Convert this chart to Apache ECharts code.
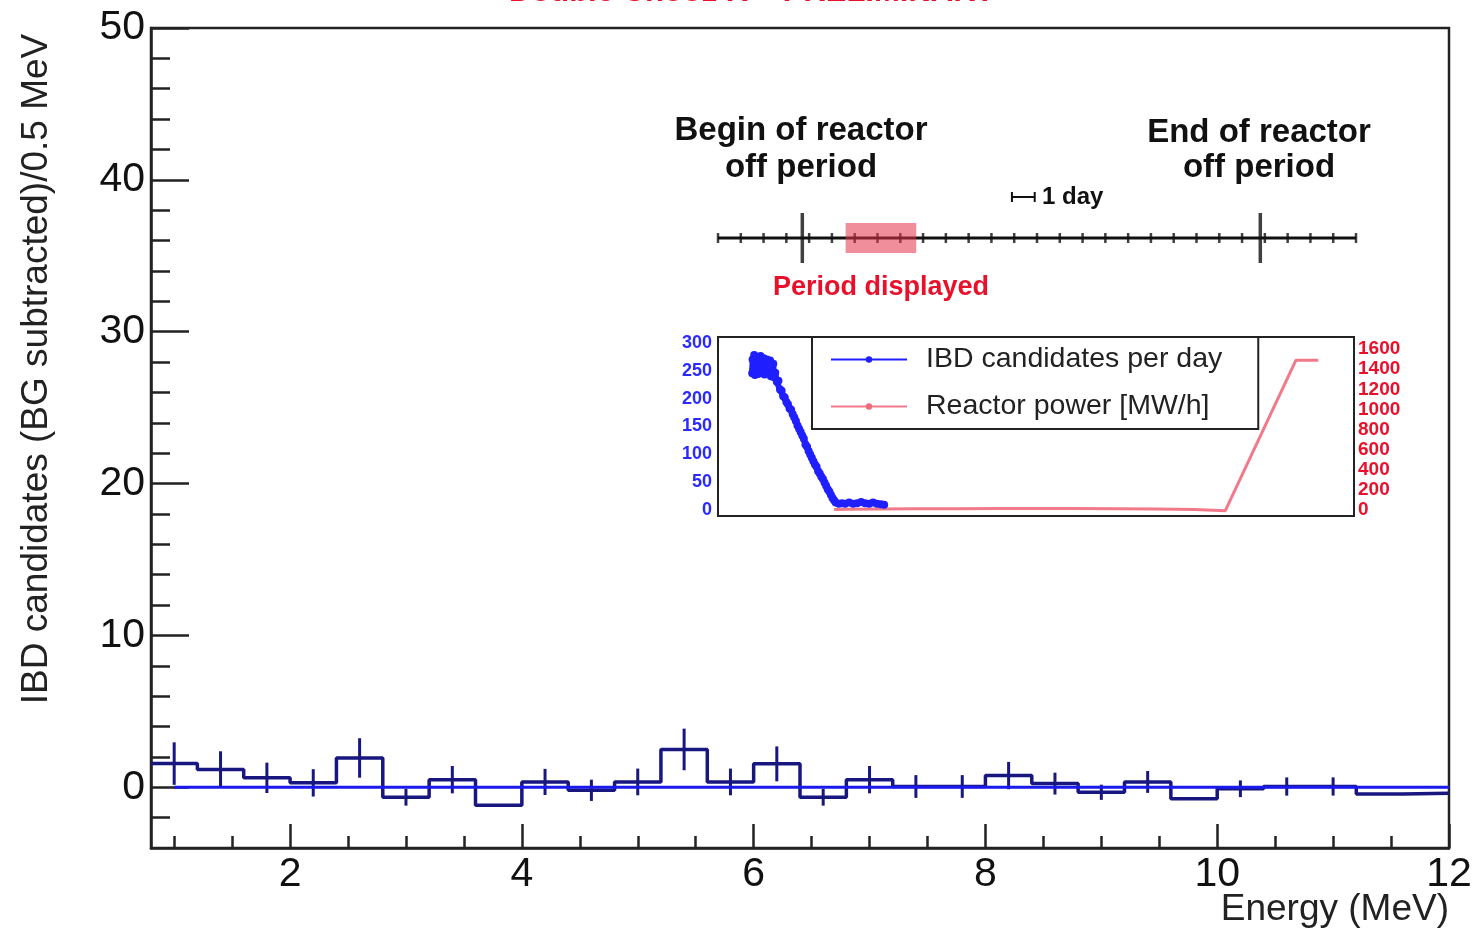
<!DOCTYPE html>
<html><head><meta charset="utf-8">
<script src="https://cdn.jsdelivr.net/npm/echarts@6/dist/echarts.min.js"></script>
<style>html,body{margin:0;padding:0;background:#fff}#c{width:1480px;height:937px}</style>
</head><body><div id="c"></div>
<script>
// ---- main histogram (energy spectrum) ----
const binCentres = [1.0,1.4,1.8,2.2,2.6,3.0,3.4,3.8,4.2,4.6,5.0,5.4,5.8,6.2,6.6,7.0,7.4,7.8,8.2,8.6,9.0,9.4,9.8,10.2,10.6,11.0,11.4,11.8];
const binValues  = [1.56,1.17,0.62,0.29,1.93,-0.66,0.50,-1.19,0.35,-0.20,0.35,2.49,0.35,1.54,-0.66,0.50,0.05,0.05,0.77,0.24,-0.33,0.35,-0.75,-0.10,0.05,0.05,-0.45,-0.40];
const binErrors  = [1.40,1.20,1.00,0.90,1.30,0.55,0.90,null,0.86,0.70,0.88,1.37,0.88,1.15,0.55,0.90,0.75,0.75,0.90,0.72,0.50,0.72,null,0.55,0.60,0.60,null,null];
const binWidth = 0.4;
const zeroLine = [[1.0, 0], [12.0, 0]];
const xMajorTicks = [2,4,6,8,10,12];
const xMinorTicks = [1,1.5,2.5,3,3.5,4.5,5,5.5,6.5,7,7.5,8.5,9,9.5,10.5,11,11.5];
const yMajorTicks = [0,10,20,30,40,50];
const yMinorTicks = [-2,2,4,6,8,12,14,16,18,22,24,26,28,32,34,36,38,42,44,46,48];

// ---- inset: IBD rate and reactor power vs time (hours) ----
const ibdTime = [4.3,4.35,4.45,4.55,4.65,4.75,4.85,4.95,5.05,5.15,5.25,5.35,5.45,5.55,5.65,5.75,5.85,5.95,6.05,6.15,6.25,6.35,6.45,6.55,6.65,6.75,6.85,6.95,7.05,7.2,7.4,7.6,7.8,8.0,8.2,8.4,8.6,8.8,9.0,9.2,9.4,9.6,9.8,10.0,10.2,10.4,10.6,10.8,11.0,11.2,11.4,11.6,11.8,12.0,12.2,12.4,12.6,12.8,13.0,13.2,13.4,13.6,13.8,14.0,14.2,14.4,14.6,14.8,15.2,15.6,16.0,16.5,17.0,17.5,18.0,18.5,19.0,19.5,20.0,20.5,20.9];
const ibdRate = [245,270,252,278,242,266,250,274,244,262,256,276,247,268,251,272,243,265,254,270,246,262,250,268,240,258,246,262,238,246,230,232,216,214,204,202,194,190,182,180,172,166,160,152,146,140,134,128,118,114,106,100,94,88,82,78,70,66,60,56,50,44,38,34,28,22,18,14,12,13,12,14,12,13,15,13,12,14,12,11,10];
const powerTime  = [14.6,16,20,25,30,35,40,45,50,55,60,63.8,72.7,75.5];
const powerValue = [5,8,10,12,12,14,14,14,12,10,4,-8,1490,1490];
const ibdTicks = [0,50,100,150,200,250,300];
const ibdMinorTicks = [10,20,30,40,60,70,80,90,110,120,130,140,160,170,180,190,210,220,230,240,260,270,280,290];
const powerTicks = [0,200,400,600,800,1000,1200,1400,1600];
const powerMinorTicks = [50,100,150,250,300,350,450,500,550,650,700,750,850,900,950,1050,1100,1150,1250,1300,1350,1450,1500,1550,1650,1700];

// ---- timeline annotation (days) ----
const timelineDays = [0,1,2,3,4,5,6,7,8,9,10,11,12,13,14,15,16,17,18,19,20,21,22,23,24,25,26,27,28];
const offPeriodEdges = [3.7, 23.8];
const displayedPeriod = [5.6, 8.7];
const oneDayBar = [12.9, 13.9];

const FONT = "'Liberation Sans', Arial, Helvetica, sans-serif";
const NAVY = '#17177f';
const plain = v => String(v);

const histData = binCentres.map((c, i) => [c - binWidth / 2, binValues[i]]);
histData.push([binCentres[binCentres.length - 1] + binWidth / 2, binValues[binValues.length - 1]]);
const errData = [];
binCentres.forEach((c, i) => { if (binErrors[i] != null) errData.push([c, binValues[i], binErrors[i]]); });

const chart = echarts.init(document.getElementById('c'), null, {renderer: 'canvas'});
chart.setOption({
  animation: false,
  backgroundColor: '#fff',
  grid: [
    {left: 151, top: 28, width: 1298, height: 820, show: true, borderColor: '#222', borderWidth: 2.5, z: 1},
    {left: 718, top: 337, width: 636, height: 179, show: true, borderColor: '#222', borderWidth: 2, backgroundColor: '#fff', z: 5},
    {left: 718, top: 213, width: 638, height: 50, show: false}
  ],
  xAxis: [
    {gridIndex: 0, type: 'value', min: 0.8, max: 12, position: 'bottom',
     axisLine: {show: true, onZero: false, lineStyle: {color: '#222', width: 2.5}},
     axisTick: {show: true, inside: true, length: 24, customValues: xMajorTicks, lineStyle: {color: '#222', width: 2.5}},
     axisLabel: {show: true, customValues: xMajorTicks, margin: 6, color: '#111', fontSize: 41, fontFamily: FONT, formatter: plain},
     splitLine: {show: false}},
    {gridIndex: 0, type: 'value', min: 0.8, max: 12, position: 'bottom',
     axisLine: {show: false, onZero: false},
     axisTick: {show: true, inside: true, length: 12, customValues: xMinorTicks, lineStyle: {color: '#222', width: 2.5}},
     axisLabel: {show: false}, splitLine: {show: false}},
    {gridIndex: 1, type: 'value', min: 0, max: 80, show: false},
    {gridIndex: 2, type: 'value', min: 0, max: 28, show: false}
  ],
  yAxis: [
    {gridIndex: 0, type: 'value', min: -4, max: 50, position: 'left',
     axisLine: {show: true, onZero: false, lineStyle: {color: '#222', width: 2.5}},
     axisTick: {show: true, inside: true, length: 38, customValues: yMajorTicks, lineStyle: {color: '#222', width: 2.5}},
     axisLabel: {show: true, customValues: yMajorTicks, margin: 6, color: '#111', fontSize: 41, fontFamily: FONT, formatter: plain},
     splitLine: {show: false}},
    {gridIndex: 0, type: 'value', min: -4, max: 50, position: 'left',
     axisLine: {show: false, onZero: false},
     axisTick: {show: true, inside: true, length: 19, customValues: yMinorTicks, lineStyle: {color: '#222', width: 2.5}},
     axisLabel: {show: false}, splitLine: {show: false}},
    {gridIndex: 1, type: 'value', min: -10, max: 310, position: 'left',
     axisLine: {show: true, onZero: false, lineStyle: {color: '#2a2aff', width: 2}},
     axisTick: {show: true, inside: true, length: 14, customValues: ibdTicks, lineStyle: {color: '#2a2aff', width: 2}},
     axisLabel: {show: true, customValues: ibdTicks, margin: 6, color: '#2a2aff', fontSize: 18, fontWeight: 'bold', fontFamily: FONT, formatter: plain},
     splitLine: {show: false}},
    {gridIndex: 1, type: 'value', min: -10, max: 310, position: 'left',
     axisLine: {show: false, onZero: false},
     axisTick: {show: true, inside: true, length: 7, customValues: ibdMinorTicks, lineStyle: {color: '#2a2aff', width: 1.5}},
     axisLabel: {show: false}, splitLine: {show: false}},
    {gridIndex: 1, type: 'value', min: -60, max: 1720, position: 'right',
     axisLine: {show: true, onZero: false, lineStyle: {color: '#e8102a', width: 2}},
     axisTick: {show: true, inside: true, length: 14, customValues: powerTicks, lineStyle: {color: '#e8102a', width: 2}},
     axisLabel: {show: true, customValues: powerTicks, margin: 4, color: '#e8102a', fontSize: 19, fontWeight: 'bold', fontFamily: FONT, formatter: plain},
     splitLine: {show: false}},
    {gridIndex: 1, type: 'value', min: -60, max: 1720, position: 'right',
     axisLine: {show: false, onZero: false},
     axisTick: {show: true, inside: true, length: 7, customValues: powerMinorTicks, lineStyle: {color: '#e8102a', width: 1.5}},
     axisLabel: {show: false}, splitLine: {show: false}},
    {gridIndex: 2, type: 'value', min: -25, max: 25, show: false}
  ],
  legend: {
    data: ['IBD candidates per day', 'Reactor power [MW/h]'],
    orient: 'vertical', left: 812, top: 337,
    padding: [8, 36, 8, 18], itemGap: 18, itemWidth: 76, itemHeight: 8,
    backgroundColor: '#fff', borderColor: '#222', borderWidth: 2,
    textStyle: {fontSize: 28.5, color: '#222', fontFamily: FONT, padding: [0, 0, 0, 14]},
    z: 10
  },
  series: [
    {name: 'histogram', type: 'line', xAxisIndex: 0, yAxisIndex: 0, step: 'end', data: histData,
     symbol: 'none', lineStyle: {color: NAVY, width: 3.5}, z: 2},
    {name: 'errors', type: 'custom', xAxisIndex: 0, yAxisIndex: 0, data: errData, z: 3,
     renderItem: function (params, api) {
       const c = api.value(0), v = api.value(1), e = api.value(2);
       const p1 = api.coord([c, v - e]), p2 = api.coord([c, v + e]);
       return {type: 'line', shape: {x1: p1[0], y1: p1[1], x2: p2[0], y2: p2[1]}, style: {stroke: NAVY, lineWidth: 3}};
     }},
    {name: 'zero', type: 'line', xAxisIndex: 0, yAxisIndex: 0, data: zeroLine, symbol: 'none',
     lineStyle: {color: '#1a1aee', width: 3}, z: 4},

    {name: 'IBD candidates per day', type: 'line', xAxisIndex: 2, yAxisIndex: 2,
     data: ibdTime.map((t, i) => [t, ibdRate[i]]),
     symbol: 'circle', symbolSize: 8, itemStyle: {color: '#1f1fff'},
     lineStyle: {color: '#1f1fff', width: 6}, z: 7},
    {name: 'Reactor power [MW/h]', type: 'line', xAxisIndex: 2, yAxisIndex: 4,
     data: powerTime.map((t, i) => [t, powerValue[i]]),
     symbol: 'circle', symbolSize: 3, showSymbol: false, itemStyle: {color: '#f06a7c'},
     lineStyle: {color: '#f06a7c', width: 3, opacity: 0.9}, z: 6},

    {name: 'timeline', type: 'line', xAxisIndex: 3, yAxisIndex: 6,
     data: [[timelineDays[0], 0], [timelineDays[timelineDays.length - 1], 0]], symbol: 'none',
     lineStyle: {color: '#111', width: 3}, z: 3},
    {name: 'dayTicks', type: 'scatter', xAxisIndex: 3, yAxisIndex: 6,
     data: timelineDays.map(d => [d, 0]), symbol: 'rect', symbolSize: [2.5, 10],
     itemStyle: {color: '#111'}, z: 3},
    {name: 'offEdges', type: 'scatter', xAxisIndex: 3, yAxisIndex: 6,
     data: offPeriodEdges.map(d => [d, 0]), symbol: 'rect', symbolSize: [3.5, 50],
     itemStyle: {color: '#111'}, z: 3},
    {name: 'displayed', type: 'custom', xAxisIndex: 3, yAxisIndex: 6, data: [displayedPeriod], z: 4,
     renderItem: function (params, api) {
       const a = api.coord([api.value(0), 15]), b = api.coord([api.value(1), -15]);
       return {type: 'rect', shape: {x: a[0], y: a[1], width: b[0] - a[0], height: b[1] - a[1]},
               style: {fill: 'rgba(230,50,72,0.55)'}};
     }},
    {name: 'oneDay', type: 'custom', xAxisIndex: 3, yAxisIndex: 6, data: [oneDayBar], z: 4,
     renderItem: function (params, api) {
       const a = api.coord([api.value(0), 41]), b = api.coord([api.value(1), 41]);
       return {type: 'group', children: [
         {type: 'line', shape: {x1: a[0], y1: a[1], x2: b[0], y2: b[1]}, style: {stroke: '#111', lineWidth: 2}},
         {type: 'line', shape: {x1: a[0], y1: a[1] - 5, x2: a[0], y2: a[1] + 5}, style: {stroke: '#111', lineWidth: 2}},
         {type: 'line', shape: {x1: b[0], y1: b[1] - 5, x2: b[0], y2: b[1] + 5}, style: {stroke: '#111', lineWidth: 2}}
       ]};
     }}
  ],
  graphic: [
    {type: 'text', x: 752, y: -8, style: {text: 'Double Chooz IV - PRELIMINARY', font: 'bold 31px ' + FONT, fill: '#e8102a', textAlign: 'center', textVerticalAlign: 'middle'}},
    {type: 'text', x: 37, y: 369, rotation: Math.PI / 2, style: {text: 'IBD candidates (BG subtracted)/0.5 MeV', font: '37px ' + FONT, fill: '#222', textAlign: 'center', textVerticalAlign: 'middle'}},
    {type: 'text', x: 1449, y: 910, style: {text: 'Energy (MeV)', font: '37px ' + FONT, fill: '#222', textAlign: 'right', textVerticalAlign: 'middle'}},
    {type: 'text', x: 801, y: 131, style: {text: 'Begin of reactor', font: 'bold 33px ' + FONT, fill: '#111', textAlign: 'center', textVerticalAlign: 'middle'}},
    {type: 'text', x: 801, y: 168, style: {text: 'off period', font: 'bold 33px ' + FONT, fill: '#111', textAlign: 'center', textVerticalAlign: 'middle'}},
    {type: 'text', x: 1259, y: 133, style: {text: 'End of reactor', font: 'bold 33px ' + FONT, fill: '#111', textAlign: 'center', textVerticalAlign: 'middle'}},
    {type: 'text', x: 1259, y: 168, style: {text: 'off period', font: 'bold 33px ' + FONT, fill: '#111', textAlign: 'center', textVerticalAlign: 'middle'}},
    {type: 'text', x: 1042, y: 197, style: {text: '1 day', font: 'bold 24px ' + FONT, fill: '#111', textAlign: 'left', textVerticalAlign: 'middle'}},
    {type: 'text', x: 881, y: 288, style: {text: 'Period displayed', font: 'bold 27px ' + FONT, fill: '#e8102a', textAlign: 'center', textVerticalAlign: 'middle'}}
  ]
});
</script>
</body></html>
